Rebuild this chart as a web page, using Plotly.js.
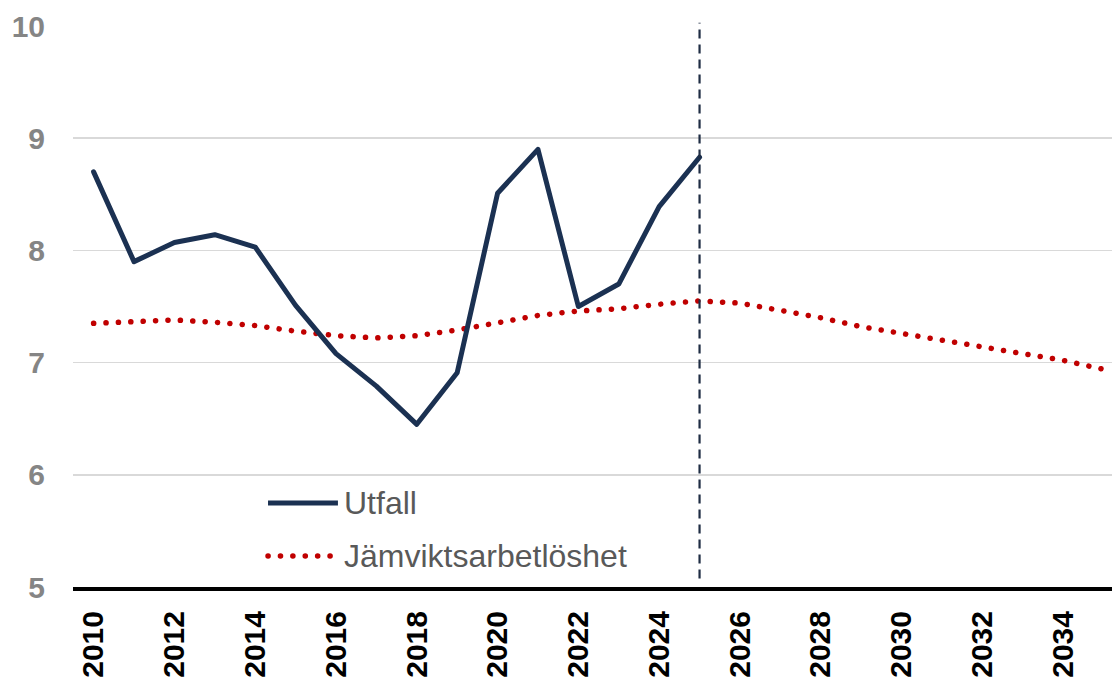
<!DOCTYPE html>
<html>
<head>
<meta charset="utf-8">
<script src="https://cdn.plot.ly/plotly-3.0.1.min.js"></script>
<style>
html,body{margin:0;padding:0;background:#fff;}
#chart{width:1112px;height:679px;}
.scatterlayer .js-line{stroke-linecap:round;stroke-linejoin:round;}
.shapelayer path[data-index="2"]{stroke-linecap:round;}
</style>
</head>
<body>
<div id="chart"></div>
<script>
// ---- data ----
const yearsActual = [2010,2011,2012,2013,2014,2015,2016,2017,2018,2019,2020,2021,2022,2023,2024,2025];
const utfall      = [8.70,7.90,8.07,8.14,8.03,7.51,7.08,6.79,6.45,6.91,8.51,8.90,7.50,7.70,8.39,8.83];
const yearsEq = [2010,2011,2012,2013,2014,2015,2016,2017,2018,2019,2020,2021,2022,2023,2024,2025,2026,2027,2028,2029,2030,2031,2032,2033,2034,2035];
const jamvikt = [7.35,7.37,7.38,7.36,7.33,7.28,7.24,7.22,7.24,7.29,7.36,7.42,7.46,7.48,7.52,7.55,7.53,7.47,7.40,7.32,7.26,7.21,7.15,7.09,7.02,6.94];
const xTicks = [2010,2012,2014,2016,2018,2020,2022,2024,2026,2028,2030,2032,2034];
const yTicks = [5,6,7,8,9,10];
const forecastStart = 2025;
const seriesNames = ["Utfall","Jämviktsarbetlöshet"];

const navy = "#1b3152";
const red = "#c00000";
const font = "Liberation Sans, Arial, sans-serif";

const traces = [
  {x: yearsEq, y: jamvikt, type: "scatter", mode: "lines", name: seriesNames[1],
   line: {color: red, width: 5.5, dash: "0.1px,12.3px"}, hoverinfo: "skip"},
  {x: yearsActual, y: utfall, type: "scatter", mode: "lines", name: seriesNames[0],
   line: {color: navy, width: 5}, hoverinfo: "skip"}
];

const layout = {
  width: 1112, height: 679,
  margin: {l: 73, r: 0, t: 26, b: 92},
  paper_bgcolor: "#fff", plot_bgcolor: "#fff",
  showlegend: false,
  xaxis: {
    type: "linear", range: [2009.49, 2035.21],
    tickvals: xTicks, ticktext: xTicks.map(String),
    tickangle: -90, showgrid: false, zeroline: false,
    showline: true, linecolor: "#000", linewidth: 4,
    ticks: "", ticklabelstandoff: 8,
    tickfont: {family: font, size: 30, color: "#000", weight: "bold"}
  },
  yaxis: {
    range: [5, 10], tickvals: yTicks, ticktext: yTicks.map(String),
    showgrid: true, gridcolor: "#d9d9d9", gridwidth: 1.5,
    zeroline: false, showline: false, ticks: "", ticklabelstandoff: 27,
    tickfont: {family: font, size: 30, color: "#858585", weight: "bold"}
  },
  shapes: [
    {type: "line", xref: "x", yref: "paper", x0: forecastStart, x1: forecastStart, y0: 0.015, y1: 1.006,
     line: {color: "#1f2d44", width: 2.2, dash: "9px,6px"}, layer: "above"},
    {type: "line", xref: "paper", yref: "paper", x0: 0.1877, x1: 0.2550, y0: 0.1497, y1: 0.1497,
     line: {color: navy, width: 5}},
    {type: "line", xref: "paper", yref: "paper", x0: 0.1877, x1: 0.2483, y0: 0.0553, y1: 0.0553,
     line: {color: red, width: 5.5, dash: "0.1px,12.3px"}}
  ],
  annotations: [
    {xref: "paper", yref: "paper", x: 0.2589, y: 0.1497, xanchor: "left", yanchor: "middle",
     text: seriesNames[0], showarrow: false, font: {family: font, size: 32, color: "#595959"}},
    {xref: "paper", yref: "paper", x: 0.2589, y: 0.0553, xanchor: "left", yanchor: "middle",
     text: seriesNames[1], showarrow: false, font: {family: font, size: 32, color: "#595959"}}
  ]
};

Plotly.newPlot("chart", traces, layout, {displayModeBar: false, staticPlot: true});
</script>
</body>
</html>
